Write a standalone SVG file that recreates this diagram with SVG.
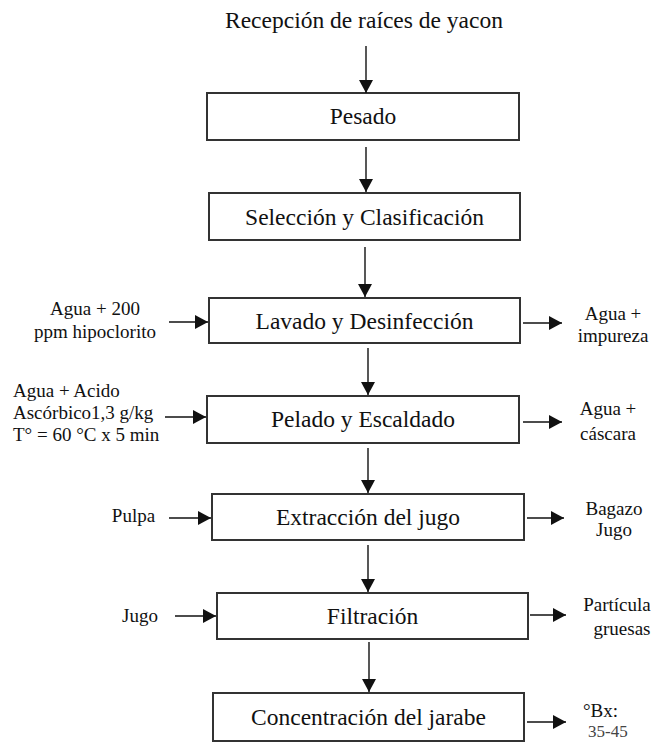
<svg xmlns="http://www.w3.org/2000/svg" width="653" height="744" viewBox="0 0 653 744">
<style>
.box{fill:#fff;stroke:#333;stroke-width:2}
.ln{stroke:#111;stroke-width:1.4;fill:none;marker-end:url(#ah)}
</style>
<defs>
<marker id="ah" viewBox="0 0 13 14" markerWidth="13" markerHeight="14" refX="13" refY="7" orient="auto" markerUnits="userSpaceOnUse">
<path d="M0,0 L13,7 L0,14 z" fill="#111"/>
</marker>
</defs>
<rect width="653" height="744" fill="#fff"/>
<g font-family="Liberation Serif" font-size="23.5" fill="#111" text-anchor="middle">
<g id="title"><text font-family="Liberation Serif" x="364" y="28">Recepción de raíces de yacon</text></g>
<g id="pesado"><rect class="box" x="207" y="93" width="312" height="47"/><text font-family="Liberation Serif" x="363" y="124">Pesado</text></g>
<g id="seleccion"><rect class="box" x="209" y="193" width="311" height="47"/><text font-family="Liberation Serif" x="364.5" y="225">Selección y Clasificación</text></g>
<g id="lavado"><rect class="box" x="209" y="298" width="311" height="45"/><text font-family="Liberation Serif" x="364.5" y="329">Lavado y Desinfección</text></g>
<g id="pelado"><rect class="box" x="207" y="396" width="312" height="47"/><text font-family="Liberation Serif" x="363" y="427">Pelado y Escaldado</text></g>
<g id="extraccion"><rect class="box" x="212" y="494" width="312" height="46"/><text font-family="Liberation Serif" x="368" y="525">Extracción del jugo</text></g>
<g id="filtracion"><rect class="box" x="217" y="593" width="311" height="46"/><text font-family="Liberation Serif" x="372.5" y="624">Filtración</text></g>
<g id="concentracion"><rect class="box" x="213" y="693" width="311" height="48"/><text font-family="Liberation Serif" x="368.5" y="725">Concentración del jarabe</text></g>
</g>
<g font-family="Liberation Serif" font-size="19" fill="#111" text-anchor="middle">
<g id="in-lavado"><text font-family="Liberation Serif" x="95" y="315">Agua + 200</text><text font-family="Liberation Serif" x="95" y="338">ppm hipoclorito</text></g>
<g id="in-pelado" text-anchor="start"><text font-family="Liberation Serif" x="13" y="397">Agua + Acido</text><text font-family="Liberation Serif" x="13" y="419">Ascórbico1,3 g/kg</text><text font-family="Liberation Serif" x="13" y="441">T° = 60 °C x 5 min</text></g>
<g id="in-extraccion"><text font-family="Liberation Serif" x="133.5" y="522">Pulpa</text></g>
<g id="in-filtracion"><text font-family="Liberation Serif" x="140" y="622">Jugo</text></g>
<g id="out-lavado"><text font-family="Liberation Serif" x="613" y="320">Agua +</text><text font-family="Liberation Serif" x="613" y="342">impureza</text></g>
<g id="out-pelado"><text font-family="Liberation Serif" x="608" y="415">Agua +</text><text font-family="Liberation Serif" x="608" y="440">cáscara</text></g>
<g id="out-extraccion"><text font-family="Liberation Serif" x="614" y="515">Bagazo</text><text font-family="Liberation Serif" x="614" y="536">Jugo</text></g>
<g id="out-filtracion"><text font-family="Liberation Serif" x="617" y="611">Partícula</text><text font-family="Liberation Serif" x="622" y="635">gruesas</text></g>
<g id="out-concentracion" text-anchor="start"><text font-family="Liberation Serif" x="583" y="717">°Bx:</text><text font-family="Liberation Serif" x="588" y="737" font-size="17" fill="#444">35-45</text></g>
</g>
<g id="connectors">
<line class="ln" x1="366" y1="46" x2="366" y2="93"/>
<line class="ln" x1="366" y1="147" x2="366" y2="192"/>
<line class="ln" x1="365" y1="247" x2="365" y2="297"/>
<line class="ln" x1="368" y1="348" x2="368" y2="395"/>
<line class="ln" x1="368" y1="448" x2="368" y2="493"/>
<line class="ln" x1="368" y1="545" x2="368" y2="592"/>
<line class="ln" x1="369" y1="642" x2="369" y2="692"/>
<line class="ln" x1="169" y1="322" x2="208" y2="322"/>
<line class="ln" x1="165" y1="417" x2="206" y2="417"/>
<line class="ln" x1="169" y1="518" x2="211" y2="518"/>
<line class="ln" x1="175" y1="616" x2="216" y2="616"/>
<line class="ln" x1="523" y1="323" x2="562" y2="323"/>
<line class="ln" x1="523" y1="422" x2="562" y2="422"/>
<line class="ln" x1="527" y1="518" x2="564" y2="518"/>
<line class="ln" x1="530" y1="615" x2="566" y2="615"/>
<line class="ln" x1="527" y1="722" x2="566" y2="722"/>
</g>
</svg>
